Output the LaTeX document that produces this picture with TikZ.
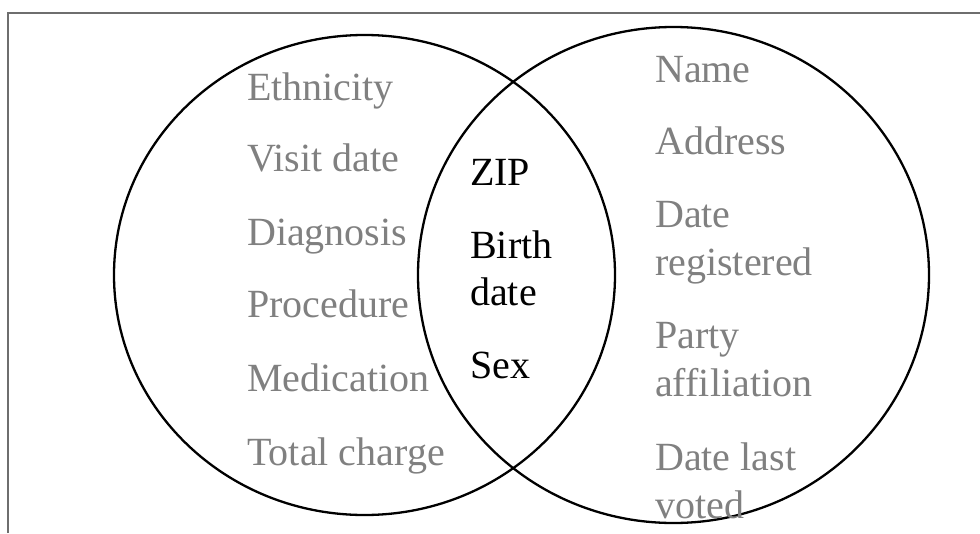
\documentclass[tikz,border=0pt]{standalone}
\usepackage{fontspec}
\setmainfont{Liberation Serif}
\usetikzlibrary{shapes.geometric}
\definecolor{txtgray}{RGB}{128,128,128}
\definecolor{framegray}{RGB}{110,110,110}
\begin{document}
\begin{tikzpicture}[x=1pt,y=-1pt,
  setcircle/.style={ellipse,draw=black,line width=2.3pt,inner sep=0pt},
  attr/.style={anchor=base west,inner sep=0pt,text=txtgray,font=\fontsize{40}{48}\selectfont},
  keyattr/.style={anchor=base west,inner sep=0pt,text=black,font=\fontsize{40}{48}\selectfont}]
\useasboundingbox (0,0) rectangle (980,533);
\fill[white] (0,0) rectangle (980,533);
\draw[framegray,line width=2pt] (8,533) -- (8,13) -- (980,13);
\node[setcircle,minimum width=501pt,minimum height=480pt] (L) at (364.5,275) {};
\node[setcircle,minimum width=511pt,minimum height=496pt] (R) at (673.5,275) {};
% left
\node[attr] (eth) at (247,100) {Ethnicity};
\node[attr] (vis) at (247,171) {Visit date};
\node[attr] (dia) at (247,245) {Diagnosis};
\node[attr] (pro) at (247,317) {Procedure};
\node[attr] (med) at (247,391) {Medication};
\node[attr] (tot) at (247,465) {Total charge};
% middle
\node[keyattr] (zip) at (470,185) {ZIP};
\node[keyattr] (bir) at (470,258) {Birth};
\node[keyattr] (bda) at (470,305) {date};
\node[keyattr] (sex) at (470,378) {Sex};
% right
\node[attr] (nam) at (655,82) {Name};
\node[attr] (add) at (655,154) {Address};
\node[attr] (dr1) at (655,227) {Date};
\node[attr] (dr2) at (655,275) {registered};
\node[attr] (pa1) at (655,348) {Party};
\node[attr] (pa2) at (655,396) {affiliation};
\node[attr] (dl1) at (655,470) {Date last};
\node[attr] (dl2) at (655,518) {voted};
\end{tikzpicture}
\end{document}
